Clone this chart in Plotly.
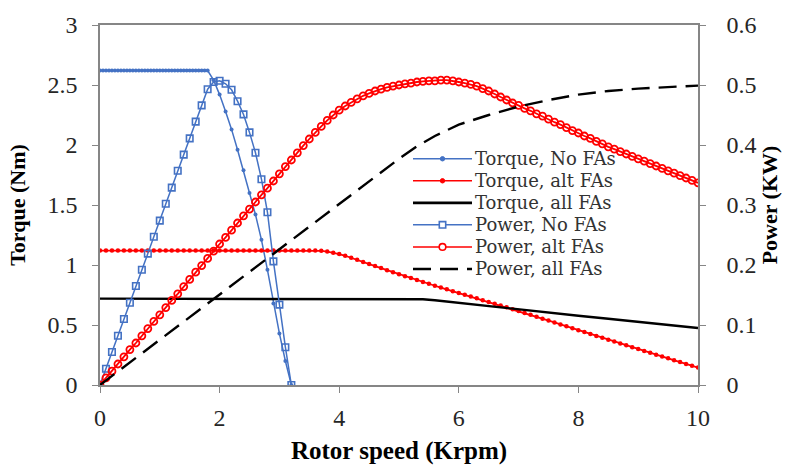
import numpy as np
import plotly.graph_objects as go

# ---- data: rotor speed in krpm, torque in Nm, power in kW ----
speed_torque_nofa = [round(v, 2) for v in np.arange(0, 1.801, 0.05)] + \
    [1.9, 2.0, 2.1, 2.2, 2.3, 2.4, 2.5, 2.6, 2.7, 2.8, 2.9, 3.0, 3.1, 3.2]
torque_nofa = [2.62] * 37 + \
    [2.54, 2.42, 2.28, 2.13, 1.96, 1.79, 1.60, 1.42, 1.21, 0.96, 0.68, 0.43, 0.20, 0.0]

speed_power_nofa = [round(v, 1) for v in np.arange(0, 3.201, 0.1)]
power_nofa = [0.000, 0.027, 0.055, 0.082, 0.110, 0.137, 0.165, 0.192, 0.219, 0.247,
              0.274, 0.302, 0.329, 0.357, 0.384, 0.411, 0.439, 0.466, 0.493, 0.505,
              0.507, 0.502, 0.492, 0.473, 0.451, 0.421, 0.387, 0.343, 0.288, 0.206,
              0.134, 0.063, 0.000]

speed_alt = [round(v, 1) for v in np.arange(0, 10.001, 0.1)]
torque_alt = [1.12] * 37 + [
    1.118, 1.112, 1.103,
    1.091, 1.077, 1.061, 1.044, 1.026, 1.008, 0.991, 0.974, 0.957, 0.940,
    0.923, 0.907, 0.891, 0.875, 0.859, 0.843, 0.827, 0.812, 0.797, 0.782,
    0.767, 0.752, 0.737, 0.722, 0.707, 0.692, 0.677, 0.662, 0.647, 0.632,
    0.617, 0.601, 0.585, 0.569, 0.553, 0.537, 0.521, 0.505, 0.489, 0.473,
    0.457, 0.441, 0.425, 0.409, 0.393, 0.378, 0.362, 0.346, 0.331, 0.315,
    0.300, 0.284, 0.269, 0.253, 0.238, 0.222, 0.207, 0.191, 0.176, 0.160,
    0.145]
power_alt = [
    0.000, 0.012, 0.023, 0.035, 0.047, 0.059, 0.070, 0.082, 0.094, 0.106,
    0.117, 0.129, 0.141, 0.152, 0.164, 0.176, 0.188, 0.199, 0.211, 0.223,
    0.235, 0.246, 0.258, 0.270, 0.282, 0.293, 0.305, 0.317, 0.328, 0.340,
    0.352, 0.364, 0.375, 0.387, 0.399, 0.410, 0.421, 0.431, 0.441, 0.450,
    0.458, 0.465, 0.471, 0.477, 0.482, 0.486, 0.490, 0.493, 0.496, 0.498,
    0.500, 0.502, 0.503, 0.505, 0.506, 0.507, 0.507, 0.508, 0.508, 0.507,
    0.505, 0.503, 0.501, 0.498, 0.494, 0.490, 0.485, 0.480, 0.475, 0.470,
    0.466, 0.461, 0.457, 0.452, 0.448, 0.443, 0.438, 0.434, 0.429, 0.424,
    0.420, 0.415, 0.411, 0.406, 0.402, 0.397, 0.393, 0.389, 0.385, 0.381,
    0.377, 0.373, 0.369, 0.365, 0.361, 0.357, 0.353, 0.349, 0.345, 0.341,
    0.337]

speed_torque_all = [0, 5.0, 5.2, 5.4, 5.6, 5.8, 6.0, 6.5, 7.0, 7.5, 8.0, 8.5, 9.0, 9.5, 10.0]
torque_all = [0.72, 0.72, 0.719, 0.714, 0.706, 0.695, 0.683, 0.655, 0.627, 0.602,
              0.577, 0.552, 0.526, 0.500, 0.475]

speed_power_all = [0, 1, 2, 3, 4, 5, 5.3, 5.6, 6.0, 6.5, 7.0, 7.5, 8.0, 8.5, 9.0, 9.5, 10.0]
power_all = [0.0, 0.0755, 0.151, 0.226, 0.302, 0.377, 0.398, 0.415, 0.434, 0.450,
             0.464, 0.475, 0.484, 0.490, 0.494, 0.497, 0.499]

x_ticks = [0, 2, 4, 6, 8, 10]
torque_ticks = [0, 0.5, 1, 1.5, 2, 2.5, 3]
power_ticks = [0, 0.1, 0.2, 0.3, 0.4, 0.5, 0.6]

series_names = ["Torque, No FAs", "Torque, alt FAs", "Torque, all FAs",
                "Power, No FAs", "Power, alt FAs", "Power, all FAs"]

# ---- styling ----
BLUE = "#4472C4"
RED = "#FF0000"
BLACK = "#000000"
FONT = "Liberation Serif"
LEGEND_FONT = "DejaVu Serif"
AXIS_COLOR = "#868686"
TEXT_COLOR = "#262626"
DASH = "18px,9px"

W, H = 787, 472
M_L, M_R, M_T, M_B = 100, 89, 21, 85

styles = [
    dict(color=BLUE, width=1.5, marker="dot", dash="solid"),
    dict(color=RED, width=1.5, marker="dot", dash="solid"),
    dict(color=BLACK, width=2.6, marker=None, dash="solid"),
    dict(color=BLUE, width=1.5, marker="square", dash="solid"),
    dict(color=RED, width=1.5, marker="circle", dash="solid"),
    dict(color=BLACK, width=2.6, marker=None, dash=DASH),
]

fig = go.Figure()

fig.add_trace(go.Scatter(
    x=speed_torque_nofa, y=torque_nofa, name=series_names[0], mode="lines+markers",
    line=dict(color=BLUE, width=1.5), marker=dict(symbol="circle", size=4, color=BLUE)))
fig.add_trace(go.Scatter(
    x=speed_alt, y=torque_alt, name=series_names[1], mode="lines+markers",
    line=dict(color=RED, width=1.8), marker=dict(symbol="circle", size=4.5, color=RED)))
fig.add_trace(go.Scatter(
    x=speed_torque_all, y=torque_all, name=series_names[2], mode="lines",
    line=dict(color=BLACK, width=2.4)))
fig.add_trace(go.Scatter(
    x=speed_power_nofa, y=power_nofa, name=series_names[3], mode="lines+markers",
    yaxis="y2", line=dict(color=BLUE, width=1.5),
    marker=dict(symbol="square-open", size=6.5, color=BLUE, line=dict(width=1.6))))
fig.add_trace(go.Scatter(
    x=speed_alt, y=power_alt, name=series_names[4], mode="lines+markers",
    yaxis="y2", line=dict(color=RED, width=1.8),
    marker=dict(symbol="circle-open", size=7, color=RED, line=dict(width=1.8))))
fig.add_trace(go.Scatter(
    x=speed_power_all, y=power_all, name=series_names[5], mode="lines",
    yaxis="y2", line=dict(color=BLACK, width=2.4, dash=DASH)))

axis_common = dict(
    showline=True, linecolor=AXIS_COLOR, linewidth=1.5,
    ticks="outside", ticklen=6, tickwidth=1.3, tickcolor=AXIS_COLOR,
    showgrid=False, zeroline=False,
)
tick_font = dict(family=FONT, size=24, color=TEXT_COLOR)

fig.update_layout(
    width=W, height=H,
    margin=dict(l=M_L, r=M_R, t=M_T, b=M_B),
    paper_bgcolor="white", plot_bgcolor="white",
    showlegend=False,
    xaxis=dict(
        range=[0, 10], tickvals=x_ticks, mirror=True,
        tickfont=tick_font, ticklabelstandoff=4,
        title=dict(text="<b>Rotor speed (Krpm)</b>", standoff=12,
                   font=dict(family=FONT, size=25, color=BLACK)),
        **axis_common),
    yaxis=dict(
        range=[0, 3], tickvals=torque_ticks,
        tickfont=tick_font, ticklabelstandoff=10,
        title=dict(text="<b>Torque (Nm)</b>", standoff=16,
                   font=dict(family=FONT, size=22, color=BLACK)),
        **axis_common),
    yaxis2=dict(
        range=[0, 0.6], tickvals=power_ticks, overlaying="y", side="right",
        tickfont=tick_font, ticklabelstandoff=16,
        title=dict(text="<b>Power (KW)</b>", standoff=2,
                   font=dict(family=FONT, size=22, color=BLACK)),
        **axis_common),
)

# ---- legend box drawn inside the plot area (pixel layout -> paper coords) ----
plot_w = W - M_L - M_R
plot_h = H - M_T - M_B


def paper_x(px):
    return (px - M_L) / plot_w


def paper_y(py):
    return (H - M_B - py) / plot_h


LEG_X0, LEG_X1, LEG_TEXT_X = 413, 472, 474
LEG_Y0, LEG_DY = 157, 22.4

for i, (name, st) in enumerate(zip(series_names, styles)):
    yc = paper_y(LEG_Y0 + i * LEG_DY)
    fig.add_shape(type="line", xref="paper", yref="paper",
                  x0=paper_x(LEG_X0), x1=paper_x(LEG_X1), y0=yc, y1=yc,
                  line=dict(color=st["color"], width=st["width"], dash=st["dash"]))
    xm = paper_x((LEG_X0 + LEG_X1) / 2)
    if st["marker"] == "dot":
        fig.add_shape(type="circle", xref="paper", yref="paper",
                      xsizemode="pixel", ysizemode="pixel", xanchor=xm, yanchor=yc,
                      x0=-2.2, x1=2.2, y0=-2.2, y1=2.2,
                      fillcolor=st["color"], line=dict(color=st["color"], width=1))
    elif st["marker"] == "square":
        fig.add_shape(type="rect", xref="paper", yref="paper",
                      xsizemode="pixel", ysizemode="pixel", xanchor=xm, yanchor=yc,
                      x0=-3.2, x1=3.2, y0=-3.2, y1=3.2,
                      fillcolor="white", line=dict(color=st["color"], width=1.6))
    elif st["marker"] == "circle":
        fig.add_shape(type="circle", xref="paper", yref="paper",
                      xsizemode="pixel", ysizemode="pixel", xanchor=xm, yanchor=yc,
                      x0=-3.3, x1=3.3, y0=-3.3, y1=3.3,
                      fillcolor="white", line=dict(color=st["color"], width=1.6))
    fig.add_annotation(text=name, xref="paper", yref="paper",
                       x=paper_x(LEG_TEXT_X), y=yc, xanchor="left", yanchor="middle",
                       showarrow=False, borderpad=0,
                       font=dict(family=LEGEND_FONT, size=18, color="#333333"))

fig.write_html("out.html")
